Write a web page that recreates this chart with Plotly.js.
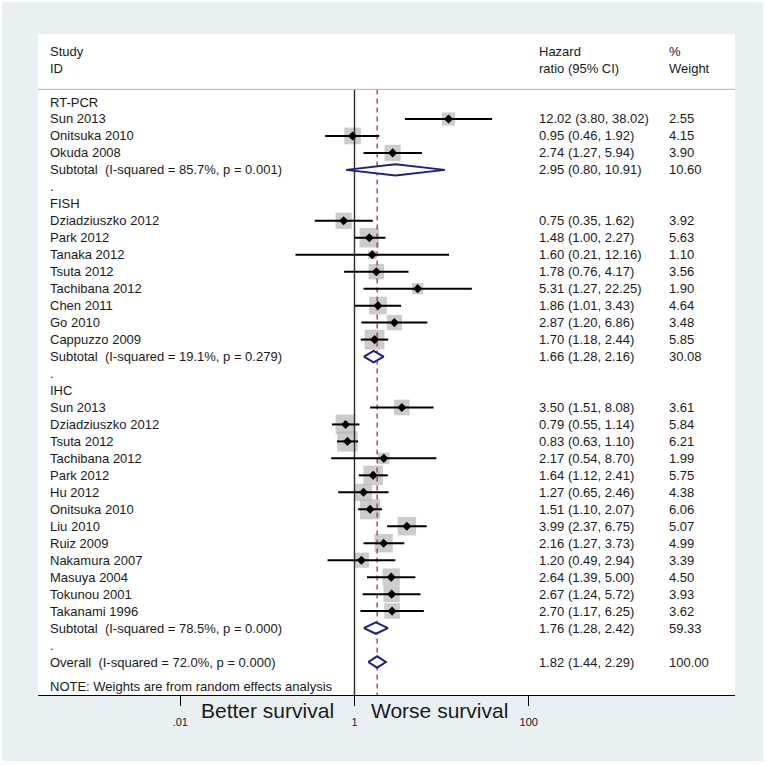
<!DOCTYPE html>
<html>
<head>
<meta charset="utf-8">
<script src="https://cdn.plot.ly/plotly-3.0.1.min.js"></script>
<style>html,body{margin:0;padding:0;background:#fff;}#chart{width:766px;height:765px;}</style>
</head>
<body>
<div id="chart"></div>
<script>
// ---- data ----
const rowLabel = [
  "RT-PCR","Sun 2013","Onitsuka 2010","Okuda 2008","Subtotal  (I-squared = 85.7%, p = 0.001)",".",
  "FISH","Dziadziuszko 2012","Park 2012","Tanaka 2012","Tsuta 2012","Tachibana 2012","Chen 2011","Go 2010","Cappuzzo 2009","Subtotal  (I-squared = 19.1%, p = 0.279)",".",
  "IHC","Sun 2013","Dziadziuszko 2012","Tsuta 2012","Tachibana 2012","Park 2012","Hu 2012","Onitsuka 2010","Liu 2010","Ruiz 2009","Nakamura 2007","Masuya 2004","Tokunou 2001","Takanami 1996","Subtotal  (I-squared = 78.5%, p = 0.000)",".",
  "Overall  (I-squared = 72.0%, p = 0.000)"
];
const rowKind = [
  "head","study","study","study","sub","blank",
  "head","study","study","study","study","study","study","study","study","sub","blank",
  "head","study","study","study","study","study","study","study","study","study","study","study","study","study","sub","blank",
  "overall"
];
const hr = [null,12.02,0.95,2.74,2.95,null,
  null,0.75,1.48,1.60,1.78,5.31,1.86,2.87,1.70,1.66,null,
  null,3.50,0.79,0.83,2.17,1.64,1.27,1.51,3.99,2.16,1.20,2.64,2.67,2.70,1.76,null,
  1.82];
const ciLow = [null,3.80,0.46,1.27,0.80,null,
  null,0.35,1.00,0.21,0.76,1.27,1.01,1.20,1.18,1.28,null,
  null,1.51,0.55,0.63,0.54,1.12,0.65,1.10,2.37,1.27,0.49,1.39,1.24,1.17,1.28,null,
  1.44];
const ciHigh = [null,38.02,1.92,5.94,10.91,null,
  null,1.62,2.27,12.16,4.17,22.25,3.43,6.86,2.44,2.16,null,
  null,8.08,1.14,1.10,8.70,2.41,2.46,2.07,6.75,3.73,2.94,5.00,5.72,6.25,2.42,null,
  2.29];
const weight = [null,2.55,4.15,3.90,10.60,null,
  null,3.92,5.63,1.10,3.56,1.90,4.64,3.48,5.85,30.08,null,
  null,3.61,5.84,6.21,1.99,5.75,4.38,6.06,5.07,4.99,3.39,4.50,3.93,3.62,59.33,null,
  100.00];
const headerLeft = ["Study","ID"];
const headerMid = ["Hazard","ratio (95% CI)"];
const headerRight = ["%","Weight"];
const noteText = "NOTE: Weights are from random effects analysis";
const tickVals = [0.01, 1, 100];
const tickText = [".01", "1", "100"];
const sideLabels = ["Better survival", "Worse survival"];

// ---- geometry helpers (pixels -> axis/paper) ----
const W = 766, H = 765;
const PL = 38, PR = 735, PT = 34, PB = 695;
const rowTop = 102, rowStep = 16.97;
const px2r = py => (py - rowTop) / rowStep;
const pxX = px => (px - PL) / (PR - PL);
const pxY = py => (PB - py) / (PB - PT);
const x1px = 354.5, decade = 87.1;

const FONT = "Liberation Sans, Arial, Helvetica, sans-serif";
const TXT = "#1a1a1a";

const traces = [];
// boxes
const bx = [], by = [], bs = [];
rowKind.forEach((k, i) => { if (k === "study") { bx.push(hr[i]); by.push(i); bs.push(8.2 * Math.sqrt(weight[i])); } });
traces.push({type:"scatter", mode:"markers", x:bx, y:by, hoverinfo:"skip",
  marker:{symbol:"square", size:bs, color:"#b6b6b6", line:{width:0}}});

// null line and overall line
const yTopLine = px2r(89.5), yBot = px2r(PB);
traces.push({type:"scatter", mode:"lines", x:[1,1], y:[yTopLine, yBot], hoverinfo:"skip",
  line:{color:"#2b2b2b", width:1.4}});
const overallIdx = rowKind.indexOf("overall");
traces.push({type:"scatter", mode:"lines", x:[hr[overallIdx], hr[overallIdx]], y:[yTopLine, yBot], hoverinfo:"skip",
  line:{color:"#a8323e", width:1.3, dash:"5px,4px"}});

// CI lines
const lx = [], ly = [];
rowKind.forEach((k, i) => { if (k === "study") { lx.push(ciLow[i], ciHigh[i], null); ly.push(i, i, null); } });
traces.push({type:"scatter", mode:"lines", x:lx, y:ly, hoverinfo:"skip",
  line:{color:"#000", width:2}});
// points
traces.push({type:"scatter", mode:"markers", x:bx, y:by, hoverinfo:"skip",
  marker:{symbol:"diamond", size:7, color:"#000"}});

// diamonds
const dh = 5.7 / rowStep;
const dx = [], dy = [];
rowKind.forEach((k, i) => {
  if (k === "sub" || k === "overall") {
    dx.push(ciLow[i], hr[i], ciHigh[i], hr[i], ciLow[i], null);
    dy.push(i, i - dh, i, i + dh, i, null);
  }
});
traces.push({type:"scatter", mode:"lines", x:dx, y:dy, fill:"toself", fillcolor:"#ffffff", hoverinfo:"skip",
  line:{color:"#1c2080", width:2}});

// ---- annotations ----
const ann = [];
function txt(x, y, t, opts) {
  ann.push(Object.assign({xref:"paper", yref:"y", x:x, y:y, text:t, showarrow:false,
    xanchor:"left", yanchor:"middle", borderpad:0, font:{family:FONT, size:13, color:TXT}}, opts || {}));
}
const xL = pxX(48.5), xM = pxX(537.5), xR = pxX(667.5);
txt(xL, px2r(51.7), headerLeft[0]);
txt(xL, px2r(68.3), headerLeft[1]);
txt(xM, px2r(51.7), headerMid[0]);
txt(xM, px2r(68.3), headerMid[1]);
txt(xR, px2r(51.7), headerRight[0]);
txt(xR, px2r(68.3), headerRight[1]);
rowLabel.forEach((lab, i) => {
  txt(xL, i, lab);
  if (hr[i] !== null) {
    txt(xM, i, hr[i].toFixed(2) + " (" + ciLow[i].toFixed(2) + ", " + ciHigh[i].toFixed(2) + ")");
    txt(xR, i, weight[i].toFixed(2));
  }
});
txt(xL, px2r(686.5), noteText);
ann.push({xref:"paper", yref:"paper", x:pxX(267), y:pxY(710), text:sideLabels[0], showarrow:false,
  xanchor:"center", yanchor:"middle", font:{family:FONT, size:21, color:TXT}});
ann.push({xref:"paper", yref:"paper", x:pxX(439), y:pxY(710), text:sideLabels[1], showarrow:false,
  xanchor:"center", yanchor:"middle", font:{family:FONT, size:21, color:TXT}});

// ---- shapes ----
const shapes = [
  {type:"rect", xref:"paper", yref:"paper", x0:pxX(2), x1:pxX(763), y0:pxY(761), y1:pxY(2),
   fillcolor:"#e9f0f3", line:{width:0}, layer:"below"},
  {type:"rect", xref:"paper", yref:"paper", x0:0, x1:1, y0:0, y1:1,
   fillcolor:"#ffffff", line:{width:0}, layer:"below"},
  {type:"line", xref:"paper", yref:"paper", x0:0, x1:1, y0:pxY(89.3), y1:pxY(89.3),
   line:{color:"#b0b0b0", width:1}, layer:"above"}
];

const layout = {
  width:W, height:H,
  margin:{l:PL, r:W-PR, t:PT, b:H-PB, pad:0},
  paper_bgcolor:"#ffffff", plot_bgcolor:"rgba(0,0,0,0)",
  showlegend:false,
  xaxis:{type:"log", range:[(PL - x1px)/decade, (PR - x1px)/decade],
    tickvals:tickVals, ticktext:tickText, ticks:"outside", ticklen:10, tickwidth:1, tickcolor:"#000",
    showline:true, linecolor:"#000", linewidth:1.3, showgrid:false, zeroline:false,
    ticklabelstandoff:6, tickfont:{family:FONT, size:11, color:TXT}, fixedrange:true},
  yaxis:{range:[px2r(PB), px2r(PT)], visible:false, showgrid:false, zeroline:false, fixedrange:true},
  annotations:ann, shapes:shapes
};
Plotly.newPlot("chart", traces, layout, {displayModeBar:false, staticPlot:true});
</script>
</body>
</html>
